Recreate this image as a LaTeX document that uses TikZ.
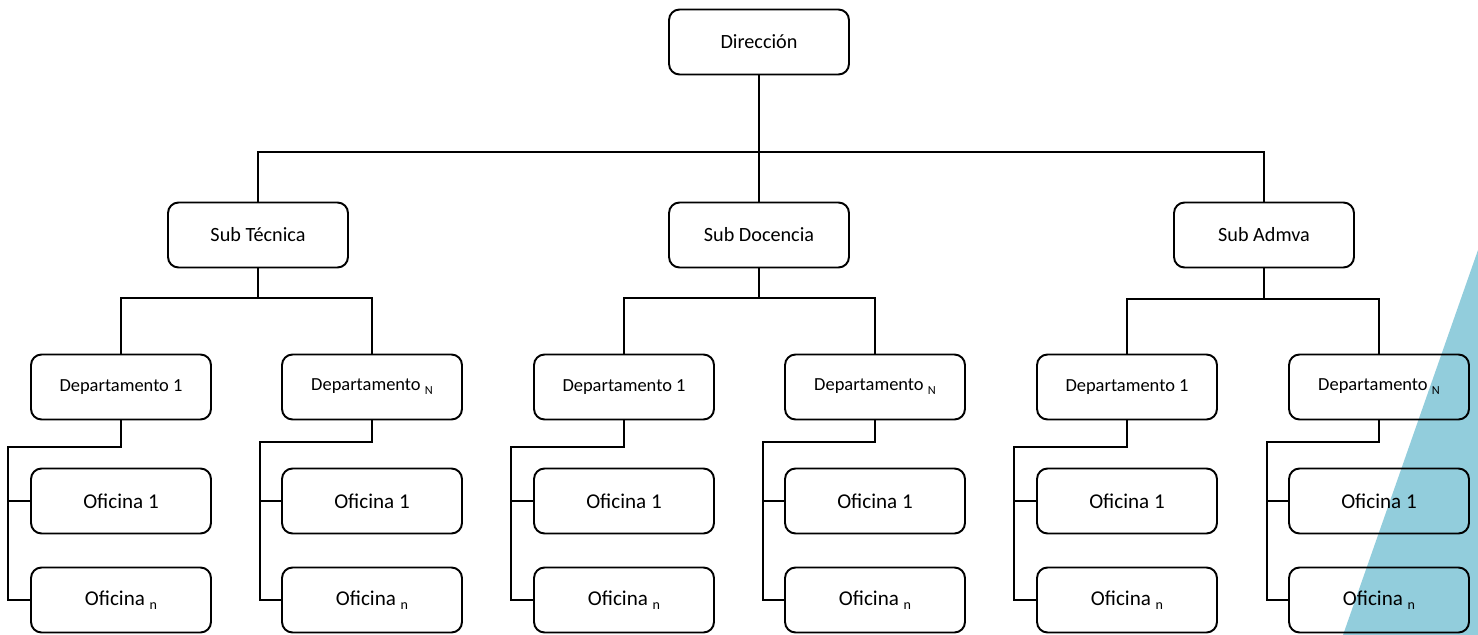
\documentclass[tikz,border=0pt]{standalone}
\usepackage{fontspec}
\setmainfont{Carlito}
\usetikzlibrary{positioning}
\definecolor{tri}{HTML}{92CDDC}
\tikzstyle{box} = [draw, rectangle, rounded corners=6pt, line width=1.1pt, minimum height=1.3cm, minimum width=3.6cm, align=center]
\tikzstyle{dep} = [box, font={\fontsize{10.5pt}{12}\selectfont}]
\tikzstyle{ofi} = [box, font={\fontsize{12pt}{14}\selectfont}]
\tikzstyle{wire} = [line width=1.1pt]
\newcommand{\subN}{\raisebox{-0.45ex}{\fontsize{7pt}{8}\selectfont N}}
\newcommand{\subn}{\raisebox{-0.35ex}{\fontsize{8pt}{9}\selectfont n}}

\begin{document}
\begin{tikzpicture}[x=0.02cm, y=-0.02cm]
    \useasboundingbox (0,0) rectangle (1478,635);
    \tikzset{font={\fontsize{11.5pt}{14}\selectfont}}
    % blue corner
    \fill [tri] (1478,250) -- (1343,635) -- (1478,635) -- cycle;

    \node [box] (dir) at (759,42) {Dirección};
    \node [box] (sub1) at (258,235) {Sub Técnica};
    \node [box] (sub2) at (759,235) {Sub Docencia};
    \node [box] (sub3) at (1264,235) {Sub Admva};

    % first group
    \node [dep] (depA1) at (121,387) {Departamento 1};
    \node [dep] (depAN) at (372,387) {Departamento \subN};
    \node [ofi] (ofA1) at (121,501) {Oficina 1};
    \node [ofi] (ofAn) at (121,600) {Oficina \subn};
    \node [ofi] (ofAN1) at (372,501) {Oficina 1};
    \node [ofi] (ofANn) at (372,600) {Oficina \subn};

    % second group
    \node [dep] (depB1) at (624,387) {Departamento 1};
    \node [dep] (depBN) at (875,387) {Departamento \subN};
    \node [ofi] (ofB1) at (624,501) {Oficina 1};
    \node [ofi] (ofBn) at (624,600) {Oficina \subn};
    \node [ofi] (ofBN1) at (875,501) {Oficina 1};
    \node [ofi] (ofBNn) at (875,600) {Oficina \subn};

    % third group
    \node [dep] (depC1) at (1127,387) {Departamento 1};
    \node [dep] (depCN) at (1379,387) {Departamento \subN};
    \node [ofi] (ofC1) at (1127,501) {Oficina 1};
    \node [ofi] (ofCn) at (1127,600) {Oficina \subn};
    \node [ofi] (ofCN1) at (1379,501) {Oficina 1};
    \node [ofi] (ofCNn) at (1379,600) {Oficina \subn};

    % top level
    \coordinate (busTop) at (759,152);
    \draw [wire] (dir.south) -- (busTop);
    \draw [wire] (sub1.north) |- (busTop) -| (sub3.north);
    \draw [wire] (busTop) -- (sub2.north);

    % departments
    \coordinate (busA) at (258,298);
    \coordinate (busB) at (759,298);
    \coordinate (busC) at (1264,299);
    \draw [wire] (sub1.south) -- (busA);
    \draw [wire] (depA1.north) |- (busA) -| (depAN.north);
    \draw [wire] (sub2.south) -- (busB);
    \draw [wire] (depB1.north) |- (busB) -| (depBN.north);
    \draw [wire] (sub3.south) -- (busC);
    \draw [wire] (depC1.north) |- (busC) -| (depCN.north);

    % offices
    \coordinate (railA1) at (8,447);
    \coordinate (railAN) at (260,442);
    \coordinate (railB1) at (511,447);
    \coordinate (railBN) at (763,442);
    \coordinate (railC1) at (1014,447);
    \coordinate (railCN) at (1267,442);
    \draw [wire] (depA1.south) |- (railA1) |- (ofAn.west);
    \draw [wire] (ofA1.west) -- (ofA1.west -| railA1);
    \draw [wire] (depAN.south) |- (railAN) |- (ofANn.west);
    \draw [wire] (ofAN1.west) -- (ofAN1.west -| railAN);
    \draw [wire] (depB1.south) |- (railB1) |- (ofBn.west);
    \draw [wire] (ofB1.west) -- (ofB1.west -| railB1);
    \draw [wire] (depBN.south) |- (railBN) |- (ofBNn.west);
    \draw [wire] (ofBN1.west) -- (ofBN1.west -| railBN);
    \draw [wire] (depC1.south) |- (railC1) |- (ofCn.west);
    \draw [wire] (ofC1.west) -- (ofC1.west -| railC1);
    \draw [wire] (depCN.south) |- (railCN) |- (ofCNn.west);
    \draw [wire] (ofCN1.west) -- (ofCN1.west -| railCN);
\end{tikzpicture}
\end{document}
